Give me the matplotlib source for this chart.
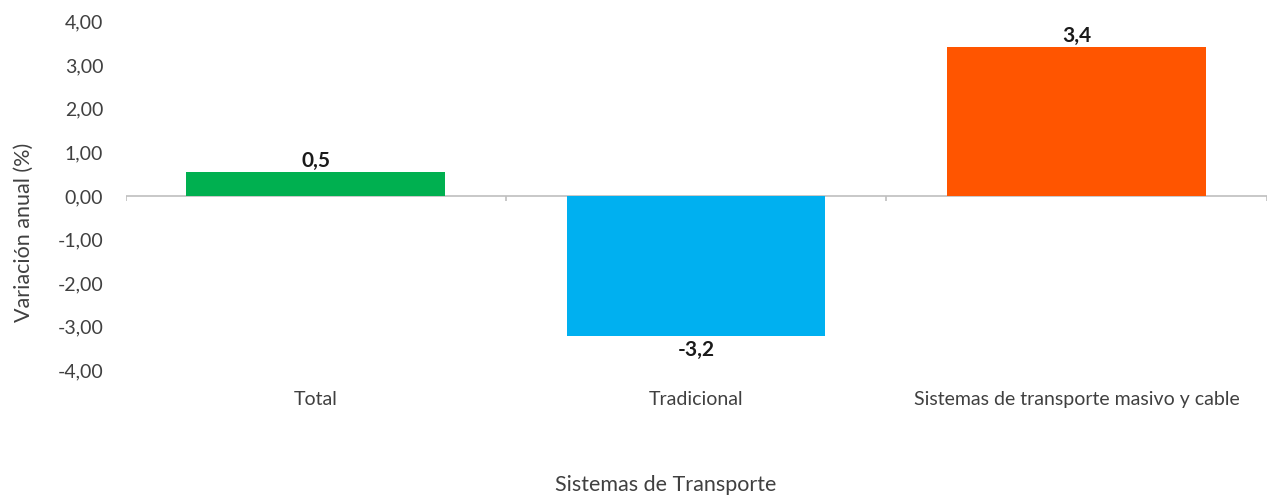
"""
Variacion anual por sistema de transporte - barras
"""

import numpy as np
import matplotlib
matplotlib.use('Agg')
import matplotlib.pyplot as plt

plt.rcParams['font.family'] = ['Lato', 'DejaVu Sans']

categorias = ['Total', 'Tradicional', 'Sistemas de transporte masivo y cable']
valores = [0.55, -3.22, 3.42]
etiquetas = ['0,5', '-3,2', '3,4']
colores = ['#00B050', '#00B0F0', '#FF5500']
y_ticks = [-4, -3, -2, -1, 0, 1, 2, 3, 4]


def present_data():
    fig = plt.figure(figsize=(12.68, 4.96), dpi=100)
    ax = fig.add_axes([0.099, 0.254, 0.9, 0.702])
    x = np.arange(len(categorias))
    ax.bar(x, valores, width=0.68, color=colores, zorder=2)

    ax.set_xlim(-0.5, len(categorias) - 0.5)
    ax.set_ylim(-4, 4)
    ax.set_yticks(y_ticks)
    ax.set_yticklabels(['{:.2f}'.format(v).replace('.', ',') for v in y_ticks],
                       fontsize=14, color='#404040')
    ax.set_xticks(x)
    ax.set_xticklabels(categorias, fontsize=14, color='#404040')
    ax.tick_params(axis='both', length=0)
    ax.tick_params(axis='x', pad=15)
    ax.tick_params(axis='y', pad=16)
    for s in ax.spines.values():
        s.set_visible(False)

    # eje en cero con marcas entre categorias
    ax.axhline(0, color='#BFBFBF', linewidth=1.2, zorder=1)
    bordes = np.arange(len(categorias) + 1) - 0.5
    ax.vlines(bordes, -0.12, 0, color='#BFBFBF', linewidth=1.2, zorder=1)

    for xi, v, t in zip(x, valores, etiquetas):
        off = 0.02 if v >= 0 else -0.1
        ax.text(xi, v + off, t, ha='center', va='bottom' if v >= 0 else 'top',
                fontsize=15, fontweight='bold', color='#1a1a1a')

    ax.set_ylabel('Variación anual (%)', fontsize=15.5, color='#404040')
    ax.yaxis.set_label_coords(-0.080, 0.394)
    fig.text(0.525, 0.01, 'Sistemas de Transporte', ha='center', fontsize=15.5, color='#404040')
    fig.savefig('out.png', dpi=100)


if __name__ == '__main__':
    present_data()
